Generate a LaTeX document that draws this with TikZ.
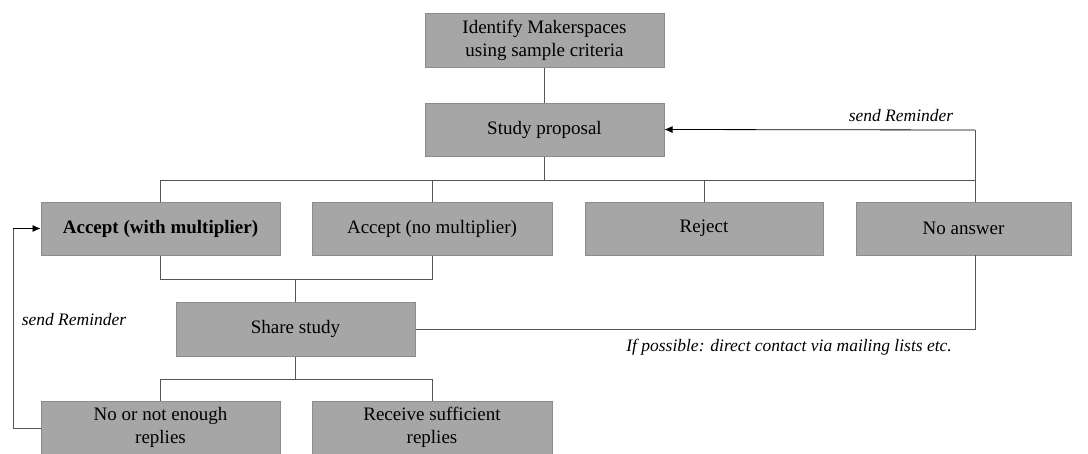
\documentclass[tikz,border=0pt]{standalone}
\usepackage{fontspec}
\setmainfont{Liberation Serif}
\usetikzlibrary{arrows.meta}
\definecolor{boxfill}{HTML}{A6A6A6}
\definecolor{boxline}{HTML}{8C8C8C}
\definecolor{conn}{HTML}{555555}
\tikzset{
  box/.style={draw=boxline, line width=1pt, fill=boxfill, inner sep=0pt, align=center,
    font=\fontsize{19}{23}\selectfont, text=black},
  wire/.style={draw=conn, line width=0.8pt},
  arr/.style={draw=black, line width=0.8pt, -{Latex[length=8pt,width=7pt]}},
  lbl/.style={font=\fontsize{17.5}{21}\selectfont\itshape, inner sep=0pt}
}
\begin{document}
\begin{tikzpicture}[x=1pt,y=-1pt]
\useasboundingbox (0,0) rectangle (1088,453);
\begin{scope}
\clip (0,0) rectangle (1088,453);
\node[box, minimum width=239pt, minimum height=54pt] (top) at (544.5,40) {Identify Makerspaces\\using sample criteria};
\node[box, minimum width=239pt, minimum height=53pt] (prop) at (544.5,129.5) {Study proposal};
\node[box, minimum width=239pt, minimum height=53pt] (acc1) at (160.5,228.5) {\bfseries Accept (with multiplier)};
\node[box, minimum width=240pt, minimum height=53pt] (acc2) at (432,228.5) {Accept (no multiplier)};
\node[box, minimum width=238pt, minimum height=53pt] (rej) at (704,228.5) {Reject};
\node[box, minimum width=215pt, minimum height=53pt] (noans) at (963.5,228.5) {No answer};
\node[box, minimum width=239pt, minimum height=54pt] (share) at (295.5,329) {Share study};
\node[box, minimum width=239pt, minimum height=53pt] (rep1) at (160.5,427.5) {No or not enough\\replies};
\node[box, minimum width=240pt, minimum height=53pt] (rep2) at (432,427.5) {Receive sufficient\\replies};
\end{scope}

\coordinate (h1) at (544.5,180);
\coordinate (nx) at (975,180);
\coordinate (ntop) at (975,202);
\coordinate (nbot) at (975,255);
\coordinate (nrem) at (975,130);
\coordinate (m1) at (295.5,279);
\coordinate (m2) at (295.5,379);
\coordinate (lft) at (13,428);

\draw[wire] (top.south) -- (prop.north);
\draw[wire] (prop.south) -- (h1);
\draw[wire] (acc1.north) -- (acc1.north |- h1) -- (nx);
\draw[wire] (acc2.north) -- (acc2.north |- h1);
\draw[wire] (rej.north) -- (rej.north |- h1);
\draw[wire] (ntop) -- (nrem);
\draw[arr] (nrem) -- (prop.east);

\draw[wire] (acc1.south) -- (acc1.south |- m1) -- (acc2.south |- m1) -- (acc2.south);
\draw[wire] (m1) -- (share.north);

\draw[wire] (share.east) -- (share.east -| nbot) -- (nbot);

\draw[wire] (share.south) -- (m2);
\draw[wire] (rep1.north) -- (rep1.north |- m2) -- (rep2.north |- m2) -- (rep2.north);

\draw[wire] (rep1.west |- lft) -- (lft) -- (lft |- acc1.west);
\draw[arr] (lft |- acc1.west) -- (acc1.west);

\node[lbl] (l1) at (901,116) {send Reminder};
\node[lbl] (l2) at (74,320) {send Reminder};
\node[lbl, anchor=east] (l3) at (952,347) {If possible: direct contact via mailing lists etc.};
\end{tikzpicture}
\end{document}
